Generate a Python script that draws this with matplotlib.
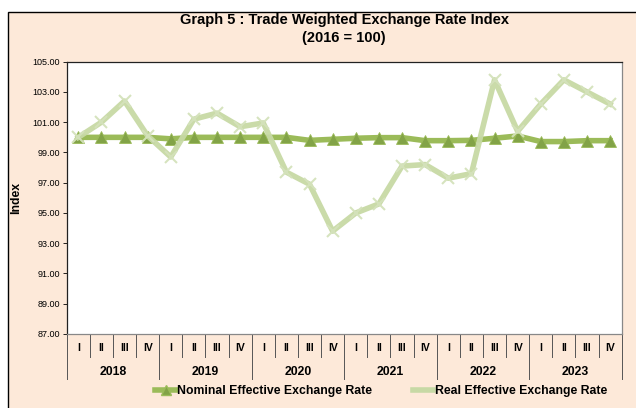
import matplotlib.pyplot as plt
from matplotlib.patches import Rectangle
from matplotlib.lines import Line2D
import matplotlib.transforms as mtransforms
import numpy as np

plt.rcParams['font.family'] = ['Liberation Sans', 'DejaVu Sans']

years = ['2018', '2019', '2020', '2021', '2022', '2023']
quarters = ['I', 'II', 'III', 'IV']

# quarterly index values, 2018 Q1 .. 2023 Q4
neer = [100.0, 100.0, 100.0, 100.0,
        99.9, 100.0, 100.0, 100.0,
        100.0, 100.0, 99.8, 99.87,
        99.94, 99.98, 99.98, 99.78,
        99.78, 99.8, 99.94, 100.09,
        99.72, 99.72, 99.78, 99.78]
reer = [100.0, 101.0, 102.4, 100.1,
        98.7, 101.2, 101.6, 100.7,
        100.95, 97.7, 96.9, 93.8,
        95.0, 95.6, 98.1, 98.2,
        97.3, 97.6, 103.8, 100.4,
        102.2, 103.8, 103.0, 102.2]

W, H = 636, 408
fig = plt.figure(figsize=(W / 100, H / 100), dpi=100)
fig.patch.set_facecolor('white')
bg = Rectangle((8 / W, -0.1), 1.2, (H - 12) / H + 0.1,
               transform=fig.transFigure, facecolor='#FDE9D9',
               edgecolor='black', linewidth=1.0, zorder=-10)
fig.patches.append(bg)

x0, x1, y0, y1 = 66.7, 621.7, 61.7, 334.0
ax = fig.add_axes([x0 / W, (H - y1) / H, (x1 - x0) / W, (y1 - y0) / H])
ax.set_facecolor('white')

x = np.arange(len(neer))
ax.plot(x, neer, color='#9BBB59', lw=4, marker='^', ms=8,
        markerfacecolor='#82A347', markeredgecolor='#9BBB59', mew=0.6, zorder=3)
ax.plot(x, reer, color='#C7D9A5', lw=4, marker='x', ms=9, alpha=0.95,
        markeredgecolor='#D4E2BB', mew=1.5, zorder=4)

ax.set_xlim(-0.5, len(neer) - 0.5)
ax.set_ylim(87, 105)
ax.set_yticks(np.arange(87, 105.1, 2))
ax.set_yticklabels(['%.2f' % v for v in np.arange(87, 105.1, 2)], fontsize=6.5)
ax.tick_params(axis='y', length=3, width=0.6, pad=2)
ax.set_xticks([])
for s in ['top', 'left']:
    ax.spines[s].set_color('#222222')
    ax.spines[s].set_linewidth(0.9)
for s in ['right', 'bottom']:
    ax.spines[s].set_color('#888888')
    ax.spines[s].set_linewidth(0.9)

ax.set_ylabel('Index', fontsize=8.8, fontweight='bold', labelpad=7)

# two-level category axis
tr = mtransforms.blended_transform_factory(ax.transData, fig.transFigure)
def fy(py):
    return (H - py) / H

for i in range(len(neer) + 1):
    xb = i - 0.5
    bottom = 379 if i % 4 == 0 else 357
    ax.plot([xb, xb], [fy(334), fy(bottom)], transform=tr, color='#555555',
            lw=0.7, clip_on=False)
for i in range(len(neer)):
    ax.text(i, fy(348), quarters[i % 4], transform=tr, ha='center', va='center',
            fontsize=7.5, fontweight='bold')
for j, yr in enumerate(years):
    ax.text(j * 4 + 1.5, fy(372), yr, transform=tr, ha='center', va='center',
            fontsize=8.8, fontweight='bold')

fig.text(344 / W, fy(20), 'Graph 5 : Trade Weighted Exchange Rate Index',
         ha='center', va='center', fontsize=10.5, fontweight='bold')
fig.text(344 / W, fy(38), '(2016 = 100)', ha='center', va='center',
         fontsize=10.5, fontweight='bold')

h1 = Line2D([], [], color='#9BBB59', lw=4, marker='^', ms=7,
            markerfacecolor='#82A347', markeredgecolor='#9BBB59')
h2 = Line2D([], [], color='#C7D9A5', lw=4)
fig.legend([h1, h2], ['Nominal Effective Exchange Rate', 'Real Effective Exchange Rate'],
           loc='center', bbox_to_anchor=(381 / W, fy(391)), ncol=2, frameon=False,
           prop={'size': 8.8, 'weight': 'bold'}, handlelength=1.7,
           handletextpad=0.1, columnspacing=3.3, borderpad=0)

fig.savefig('out.png', dpi=100, facecolor=fig.get_facecolor())
